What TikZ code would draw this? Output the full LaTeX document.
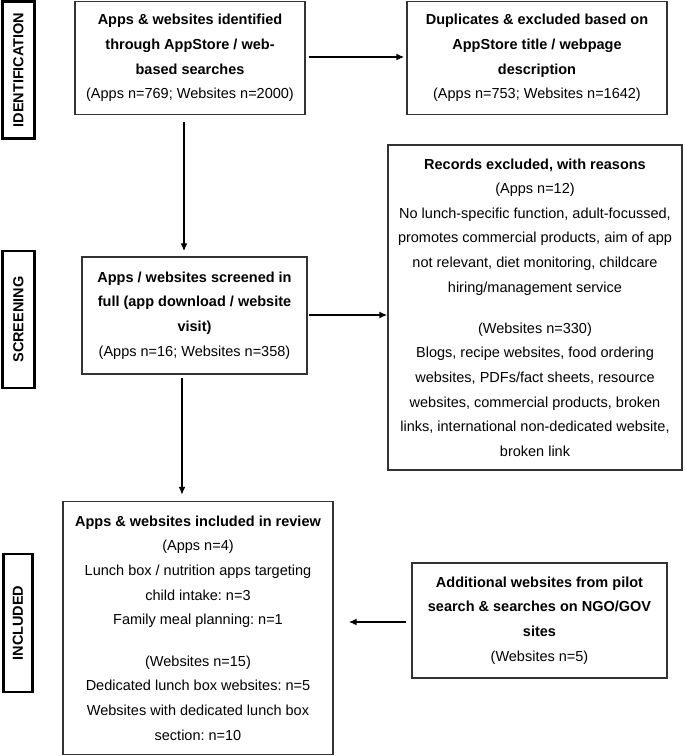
\documentclass[tikz,border=0pt]{standalone}
\usepackage{fontspec}
\setmainfont{Liberation Sans}
\frenchspacing
\usetikzlibrary{arrows.meta}
\begin{document}
\begin{tikzpicture}[x=1pt,y=-1pt,
  every node/.style={font=\fontsize{14.5}{24.6}\selectfont},
  box/.style={draw=black!80, line width=1.3pt, inner sep=0pt, align=center},
  stage/.style={draw=black, line width=2.4pt, inner sep=0pt, rotate=90,
    font=\fontsize{14.5}{17}\selectfont\bfseries},
  arr/.style={line width=1.8pt, -{Latex[length=8pt,width=7pt]}}]
\useasboundingbox (0,0) rectangle (685,756);
% stage labels
\node[stage, minimum width=137, minimum height=32] (L1) at (18.5,70) {IDENTIFICATION};
\node[stage, minimum width=137, minimum height=32] (L2) at (18.5,319.5) {SCREENING};
\node[stage, minimum width=138, minimum height=29] (L3) at (18,623) {INCLUDED};
% boxes
\node[box, minimum width=230, minimum height=113] (b1) at (190,58)
  {\textbf{Apps \& websites identified}\\\textbf{through AppStore / web-}\\\textbf{based searches}\\(Apps n=769; Websites n=2000)};
\node[box, minimum width=260, minimum height=113] (b2) at (537,58)
  {\textbf{Duplicates \& excluded based on}\\\textbf{AppStore title / webpage}\\\textbf{description}\\(Apps n=753; Websites n=1642)};
\node[box, minimum width=225, minimum height=117] (b3) at (194.5,315.5)
  {\textbf{Apps / websites screened in}\\\textbf{full (app download / website}\\\textbf{visit)}\\(Apps n=16; Websites n=358)};
\node[box, minimum width=294, minimum height=325] (b4) at (535,307.5)
  {\textbf{Records excluded, with reasons}\\(Apps n=12)\\No lunch-specific function, adult-focussed,\\promotes commercial products, aim of app\\not relevant, diet monitoring, childcare\\hiring/management service\\[16.5pt]
  (Websites n=330)\\Blogs, recipe websites, food ordering\\websites, PDFs/fact sheets, resource\\websites, commercial products, broken\\links, international non-dedicated website,\\broken link};
\node[box, minimum width=270, minimum height=253] (b5) at (198,628)
  {\textbf{Apps \& websites included in review}\\(Apps n=4)\\Lunch box / nutrition apps targeting\\child intake: n=3\\Family meal planning: n=1\\[17pt]
  (Websites n=15)\\Dedicated lunch box websites: n=5\\Websites with dedicated lunch box\\section: n=10};
\node[box, minimum width=255, minimum height=115] (b6) at (539.5,620.5)
  {\textbf{Additional websites from pilot}\\\textbf{search \& searches on NGO/GOV}\\\textbf{sites}\\(Websites n=5)};
% connectors
\coordinate (xa) at (184,0);
\coordinate (xb) at (182,0);
\coordinate (y1) at (0,57);
\coordinate (y3) at (0,315);
\draw[arr, shorten <=3pt, shorten >=2pt] (b1.east |- y1) -- (b2.west |- y1);
\draw[arr, shorten <=7pt, shorten >=5pt] (b1.south -| xa) -- (b3.north -| xa);
\draw[arr, shorten <=1pt] (b3.east |- y3) -- (b4.west |- y3);
\draw[arr, shorten <=3pt, shorten >=6pt] (b3.south -| xb) -- (b5.north -| xb);
\coordinate (y2) at (0,622);
\draw[arr, shorten <=5pt, shorten >=15pt] (b6.west |- y2) -- (b5.east |- y2);
\end{tikzpicture}
\end{document}
